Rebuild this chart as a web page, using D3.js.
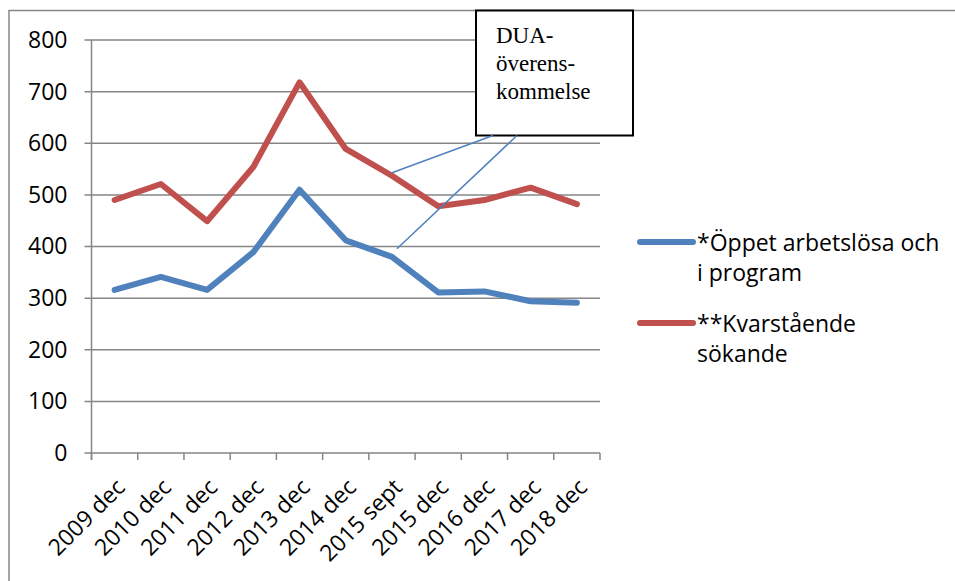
<!DOCTYPE html>
<html>
<head>
<meta charset="utf-8">
<script src="https://cdn.jsdelivr.net/npm/d3@7"></script>
<style>
  html, body { margin: 0; padding: 0; background: #fff; overflow: hidden; }
  svg { display: block; }
</style>
</head>
<body>
<div id="chart"></div>
<script>
// Data
const categories = ['2009 dec', '2010 dec', '2011 dec', '2012 dec', '2013 dec', '2014 dec',
  '2015 sept', '2015 dec', '2016 dec', '2017 dec', '2018 dec'];
const openUnemployed = [316, 341, 316, 389, 510, 412, 380, 311, 313, 294, 291];
const remainingSeekers = [490, 521, 449, 554, 718, 589, 537, 478, 490, 514, 482];
const yTicks = [0, 100, 200, 300, 400, 500, 600, 700, 800];
const calloutLines = ['DUA-', 'överens-', 'kommelse'];
const calloutTarget = '2015 sept';

const width = 955;
const height = 581;
const plot = { left: 91.5, right: 600, top: 40, bottom: 453 };
const colors = { blue: '#4F81BD', red: '#C0504D', grid: '#868686' };
const font = '"Open Sans", sans-serif';
const fontSize = '23px';

const svg = d3.select('#chart')
  .append('svg')
  .attr('width', width)
  .attr('height', height);

// Outer chart border (cut off by the screenshot on right and bottom)
svg.append('rect')
  .attr('x', 9)
  .attr('y', 10.5)
  .attr('width', 960)
  .attr('height', 600)
  .attr('fill', 'none')
  .attr('stroke', colors.grid)
  .attr('stroke-width', 1.5);

const x = d3.scaleBand()
  .domain(categories)
  .range([plot.left, plot.right]);

const y = d3.scaleLinear()
  .domain([0, 800])
  .range([plot.bottom, plot.top]);

const cx = d => x(d) + x.bandwidth() / 2;

// Horizontal gridlines
svg.append('g')
  .selectAll('line')
  .data(yTicks)
  .join('line')
  .attr('x1', plot.left - 7)
  .attr('x2', plot.right)
  .attr('y1', d => y(d))
  .attr('y2', d => y(d))
  .attr('stroke', colors.grid)
  .attr('stroke-width', 1.5);

// Y axis
const yAxis = svg.append('g')
  .attr('transform', `translate(${plot.left},0)`)
  .call(d3.axisLeft(y).tickValues(yTicks).tickSize(0).tickPadding(24));
yAxis.select('.domain').remove();
yAxis.selectAll('text')
  .style('font-family', font)
  .style('font-size', fontSize)
  .attr('fill', '#000');

svg.append('line')
  .attr('x1', plot.left)
  .attr('x2', plot.left)
  .attr('y1', plot.top)
  .attr('y2', plot.bottom + 7)
  .attr('stroke', colors.grid)
  .attr('stroke-width', 1.5);

// X axis ticks at category boundaries
const boundaries = categories.map(c => x(c)).concat([x.range()[1]]);
svg.append('g')
  .selectAll('line')
  .data(boundaries)
  .join('line')
  .attr('x1', d => d)
  .attr('x2', d => d)
  .attr('y1', plot.bottom)
  .attr('y2', plot.bottom + 7)
  .attr('stroke', colors.grid)
  .attr('stroke-width', 1.5);

// Rotated category labels
svg.append('g')
  .selectAll('text')
  .data(categories)
  .join('text')
  .attr('transform', d => `translate(${cx(d) + 6},${plot.bottom + 30}) rotate(-45)`)
  .attr('text-anchor', 'end')
  .attr('dy', '0.35em')
  .style('font-family', font)
  .style('font-size', fontSize)
  .text(d => d);

// Series lines
const line = d3.line()
  .x((d, i) => cx(categories[i]))
  .y(d => y(d));

[[openUnemployed, colors.blue], [remainingSeekers, colors.red]].forEach(([values, color]) => {
  svg.append('path')
    .datum(values)
    .attr('d', line)
    .attr('fill', 'none')
    .attr('stroke', color)
    .attr('stroke-width', 6)
    .attr('stroke-linejoin', 'round')
    .attr('stroke-linecap', 'round');
});

// Callout box
const box = { x: 476, y: 10.5, w: 157, h: 125 };
svg.append('rect')
  .attr('x', box.x)
  .attr('y', box.y)
  .attr('width', box.w)
  .attr('height', box.h)
  .attr('fill', '#fff')
  .attr('stroke', '#000')
  .attr('stroke-width', 2);

svg.append('g')
  .selectAll('text')
  .data(calloutLines)
  .join('text')
  .attr('x', box.x + 20)
  .attr('y', (d, i) => 43 + i * 28)
  .style('font-family', '"Liberation Serif", "Times New Roman", serif')
  .style('font-size', '23px')
  .text(d => d);

// Leader lines from callout to the 2015 sept points
const ti = categories.indexOf(calloutTarget);
const leaders = [
  { x1: cx(calloutTarget), y1: y(remainingSeekers[ti]) - 3, x2: box.x + 17, y2: box.y + box.h },
  { x1: cx(calloutTarget) + 5, y1: y(openUnemployed[ti]) - 8, x2: box.x + 41, y2: box.y + box.h }
];
svg.append('g')
  .selectAll('line')
  .data(leaders)
  .join('line')
  .attr('x1', d => d.x1)
  .attr('y1', d => d.y1)
  .attr('x2', d => d.x2)
  .attr('y2', d => d.y2)
  .attr('stroke', colors.blue)
  .attr('stroke-width', 1.5);

// Legend
const legend = svg.append('g').attr('transform', 'translate(640,0)');
const legendItems = [
  { color: colors.blue, y: 242, lines: ['*Öppet arbetslösa och', 'i program'] },
  { color: colors.red, y: 323, lines: ['**Kvarstående', 'sökande'] }
];
legendItems.forEach(item => {
  legend.append('line')
    .attr('x1', 0)
    .attr('x2', 53)
    .attr('y1', item.y)
    .attr('y2', item.y)
    .attr('stroke', item.color)
    .attr('stroke-width', 6)
    .attr('stroke-linecap', 'round');
  legend.append('text')
    .attr('x', 57)
    .attr('y', item.y + 9)
    .style('font-family', font)
    .style('font-size', fontSize)
    .selectAll('tspan')
    .data(item.lines)
    .join('tspan')
    .attr('x', 57)
    .attr('dy', (d, j) => j === 0 ? 0 : 30)
    .text(d => d);
});
</script>
</body>
</html>
